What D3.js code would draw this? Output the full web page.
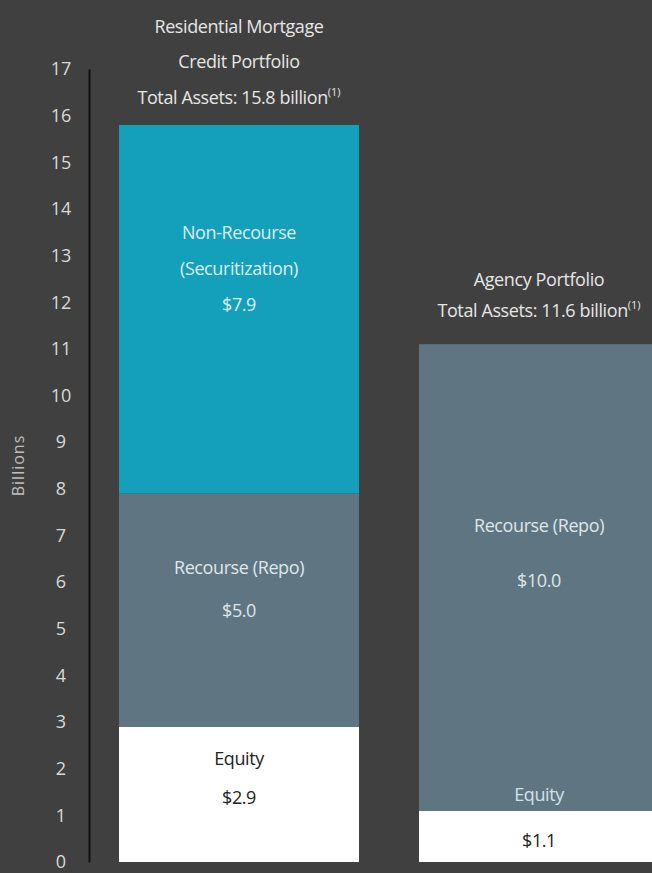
<!DOCTYPE html>
<html>
<head>
<meta charset="utf-8">
<script src="https://cdn.jsdelivr.net/npm/d3@7"></script>
<style>
  html, body { margin: 0; padding: 0; background: #404040; }
  svg { display: block; }
  text { font-family: "Open Sans", sans-serif; }
</style>
</head>
<body>
<div id="chart"></div>
<script>
// portfolios and their stacked funding (billions)
const portfolios = ['Residential Mortgage Credit Portfolio', 'Agency Portfolio'];
const equity = [2.9, 1.1];
const recourse = [5.0, 10.0];
const nonRecourse = [7.9, 0];
const totalAssets = ['15.8', '11.6'];
const yTicks = d3.range(0, 18);

const width = 652, height = 873;

const svg = d3.select('#chart')
  .append('svg')
  .attr('width', width)
  .attr('height', height);

const x = d3.scaleBand()
  .domain(portfolios)
  .range([89, 689])
  .paddingInner(0.2)
  .paddingOuter(0.1);

const y = d3.scaleLinear()
  .domain([0, 17])
  .range([862, 69]);

// y axis
const yAxis = svg.append('g')
  .attr('transform', 'translate(89,0)')
  .call(d3.axisLeft(y).tickValues(yTicks).tickSize(0).tickPadding(20).tickFormat(d3.format('d')));
yAxis.select('.domain').attr('stroke', '#111').attr('stroke-width', 2);
yAxis.selectAll('text')
  .attr('fill', '#d9d9d9')
  .attr('font-size', 18)
  .attr('text-anchor', 'middle')
  .attr('dx', '-8');

svg.append('text')
  .attr('transform', 'translate(24,' + y(8.5) + ') rotate(-90)')
  .attr('text-anchor', 'middle')
  .attr('fill', '#bfbfbf')
  .attr('font-size', 16)
  .attr('letter-spacing', 1)
  .text('Billions');

// stacked segments
const keys = ['equity', 'recourse', 'nonRecourse'];
const colors = {equity: '#ffffff', recourse: '#5f7682', nonRecourse: '#149fbb'};
const rows = portfolios.map((p, i) => ({
  portfolio: p, equity: equity[i], recourse: recourse[i], nonRecourse: nonRecourse[i]
}));
const series = d3.stack().keys(keys)(rows);

svg.selectAll('g.layer')
  .data(series)
  .enter()
  .append('g')
  .attr('class', 'layer')
  .attr('fill', (d) => colors[d.key])
  .selectAll('rect')
  .data((d) => d.filter((s) => s[1] > s[0]))
  .enter()
  .append('rect')
  .attr('x', (d) => x(d.data.portfolio))
  .attr('y', (d) => y(d[1]))
  .attr('width', x.bandwidth())
  .attr('height', (d) => y(d[0]) - y(d[1]));

// text inside and above the bars
function label(i, value, lines, color, gap) {
  const cx = x(portfolios[i]) + x.bandwidth() / 2;
  const t = svg.append('text')
    .attr('x', cx)
    .attr('y', y(value))
    .attr('text-anchor', 'middle')
    .attr('fill', color || '#e6e6e6')
    .attr('font-size', 18)
    .attr('letter-spacing', -0.4);
  lines.forEach((l, k) => {
    const ts = t.append('tspan')
      .attr('x', cx)
      .attr('dy', k === 0 ? 0 : (gap || 36));
    if (typeof l === 'string') ts.text(l);
    else {
      ts.text(l.text);
      t.append('tspan').attr('dy', -8).attr('font-size', 11).attr('letter-spacing', 0).text('(1)');
    }
  });
  return t;
}

const fmt = d3.format('.1f');
label(0, 17.77, ['Residential Mortgage', 'Credit Portfolio'], null, 35);
label(0, 16.25, [{text: 'Total Assets: ' + totalAssets[0] + ' billion'}]);
label(1, 12.35, ['Agency Portfolio']);
label(1, 11.68, [{text: 'Total Assets: ' + totalAssets[1] + ' billion'}]);

label(0, 13.35, ['Non-Recourse', '(Securitization)', '$' + fmt(nonRecourse[0])], '#dbeef3');
label(0, 6.17, ['Recourse (Repo)', '$' + fmt(recourse[0])], '#dde6ea', 43);
label(0, 2.07, ['Equity', '$' + fmt(equity[0])], '#222', 39);
label(1, 7.07, ['Recourse (Repo)', '$' + fmt(recourse[1])], '#dde6ea', 55);
label(1, 1.3, ['Equity'], '#d2e2ea');
label(1, 0.33, ['$' + fmt(equity[1])], '#222');
</script>
</body>
</html>
